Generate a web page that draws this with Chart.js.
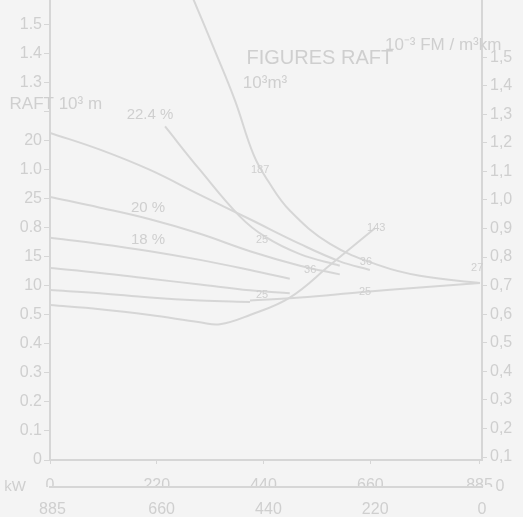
<!DOCTYPE html>
<html>
<head>
<meta charset="utf-8">
<script src="https://cdn.jsdelivr.net/npm/chart.js@4.4.0/dist/chart.umd.min.js"></script>
<style>
  html, body { margin: 0; padding: 0; background: #f4f4f4; }
  #wrap { width: 523px; height: 517px; }
</style>
</head>
<body>
<div id="wrap"><canvas id="raftChart"></canvas></div>
<script>
// power axis (kW), upper row and reversed lower row
const powerTicks = [0, 220, 440, 660, 885];

// left axis ticks and what is printed beside them
const leftTicks = [0, 0.1, 0.2, 0.3, 0.4, 0.5, 0.6, 0.7, 0.8, 0.9, 1.0, 1.1, 1.2, 1.3, 1.4, 1.5];
const leftTickLabels = ['0', '0.1', '0.2', '0.3', '0.4', '0.5', '10', '15', '0.8', '25', '1.0', '20', '', '1.3', '1.4', '1.5'];

// right axis (10^-3 FM / m3km)
const rightTicks = [0.1, 0.2, 0.3, 0.4, 0.5, 0.6, 0.7, 0.8, 0.9, 1.0, 1.1, 1.2, 1.3, 1.4, 1.5];
const rightTickLabels = ['0,1', '0,2', '0,3', '0,4', '0,5', '0,6', '0,7', '0,8', '0,9', '1,0', '1,1', '1,2', '1,3', '1,4', '1,5'];

// curves, [kW, value]
const curveSteep = [[295, 1.59], [340, 1.41], [381, 1.24], [420, 1.05], [450, 0.96], [494, 0.86], [577, 0.745], [680, 0.67], [762, 0.635], [886, 0.61]];
const curve224 = [[237, 1.15], [309, 1.0], [391, 0.84], [443, 0.77], [515, 0.71], [597, 0.67]];
const curveA = [[0, 1.128], [103, 1.07], [206, 1.0], [309, 0.914], [412, 0.83], [515, 0.745], [597, 0.685], [659, 0.655]];
const curveB = [[0, 0.907], [103, 0.87], [206, 0.83], [309, 0.78], [412, 0.72], [515, 0.67], [597, 0.64]];
const curveC = [[0, 0.766], [103, 0.745], [206, 0.72], [309, 0.69], [412, 0.655], [494, 0.625]];
const curveD = [[0, 0.662], [103, 0.645], [206, 0.625], [309, 0.605], [412, 0.585], [494, 0.575]];
const curveE = [[0, 0.586], [103, 0.575], [206, 0.56], [309, 0.55], [412, 0.545]];
const curveF = [[0, 0.534], [103, 0.52], [206, 0.50], [309, 0.475], [350, 0.468], [412, 0.50], [494, 0.56], [577, 0.672], [670, 0.80]];
const curveFlat = [[412, 0.55], [515, 0.56], [639, 0.578], [762, 0.595], [886, 0.61]];

// text written on the sheet, anchored in kW / left-axis units
const chartNotes = [
  ['10\u207B\u00B3 FM / m\u00B3km', 810, 1.43, 17],
  ['FIGURES RAFT', 556, 1.385, 20],
  ['10\u00B3m\u00B3', 443, 1.30, 17],
  ['RAFT 10\u00B3 m', 12, 1.225, 17],
  ['22.4 %', 206, 1.19, 15],
  ['20 %', 202, 0.87, 15],
  ['18 %', 202, 0.76, 15],
  ['187', 433, 1.0, 11],
  ['143', 672, 0.80, 11],
  ['36', 651, 0.683, 11],
  ['25', 437, 0.76, 11],
  ['36', 536, 0.655, 11],
  ['25', 649, 0.579, 11],
  ['25', 437, 0.569, 11],
  ['27', 880, 0.662, 11],
  ['kW', -72, -0.093, 15],
  ['0', 927, -0.093, 16]
];

const lineColor = '#d6d6d6';
const textColor = '#cfcfcf';
const fontFamily = '"Liberation Sans", Arial, sans-serif';

function toPoints(list) {
  return list.map(p => ({x: p[0], y: p[1]}));
}

function makeSet(list) {
  return {
    data: toPoints(list),
    borderColor: lineColor,
    borderWidth: 2,
    pointRadius: 0,
    tension: 0.4,
    fill: false,
    yAxisID: 'y'
  };
}

const notesPlugin = {
  id: 'notes',
  afterDatasetsDraw(chart) {
    const ctx = chart.ctx;
    const xs = chart.scales.x;
    const ys = chart.scales.y;
    ctx.save();
    ctx.fillStyle = textColor;
    ctx.textAlign = 'center';
    ctx.textBaseline = 'middle';
    chartNotes.forEach(n => {
      ctx.font = n[3] + 'px ' + fontFamily;
      ctx.fillText(n[0], xs.getPixelForValue(n[1]), ys.getPixelForValue(n[2]));
    });
    ctx.restore();
  }
};

function fixSize(prop, size) {
  return function(scale) {
    scale[prop] = size;
    scale.paddingTop = 0;
    scale.paddingBottom = 0;
    scale.paddingLeft = 0;
    scale.paddingRight = 0;
  };
}

const ctx = document.getElementById('raftChart').getContext('2d');
const raftChart = new Chart(ctx, {
  type: 'line',
  data: {
    datasets: [curveSteep, curve224, curveA, curveB, curveC, curveD, curveE, curveF, curveFlat].map(makeSet)
  },
  options: {
    responsive: true,
    maintainAspectRatio: false,
    animation: false,
    layout: { padding: 0 },
    plugins: {
      legend: { display: false },
      tooltip: { enabled: false }
    },
    scales: {
      x: {
        type: 'linear',
        position: 'bottom',
        min: 0,
        max: 890,
        afterBuildTicks: s => { s.ticks = powerTicks.map(v => ({value: v})); },
        afterFit: fixSize('height', 27),
        border: { color: lineColor, width: 2 },
        grid: { drawOnChartArea: false, color: lineColor, tickLength: 4 },
        ticks: { color: textColor, padding: 12, maxRotation: 0, font: { family: fontFamily, size: 16 } }
      },
      x2: {
        type: 'linear',
        position: 'bottom',
        reverse: true,
        min: 0,
        max: 890,
        afterBuildTicks: s => { s.ticks = powerTicks.map(v => ({value: v})); },
        afterFit: fixSize('height', 30),
        border: { color: lineColor, width: 2 },
        grid: { display: false },
        ticks: { color: textColor, padding: 5, maxRotation: 0, font: { family: fontFamily, size: 16 } }
      },
      y: {
        type: 'linear',
        position: 'left',
        min: 0,
        max: 1.586,
        afterBuildTicks: s => { s.ticks = leftTicks.map(v => ({value: v})); },
        afterFit: fixSize('width', 50),
        border: { color: lineColor, width: 2 },
        grid: { drawOnChartArea: false, color: lineColor, tickLength: 6 },
        ticks: {
          color: textColor,
          padding: 2,
          font: { family: fontFamily, size: 16 },
          callback: (v, i) => leftTickLabels[i]
        }
      },
      y2: {
        type: 'linear',
        position: 'right',
        min: 0.0895,
        max: 1.70,
        afterBuildTicks: s => { s.ticks = rightTicks.map(v => ({value: v})); },
        afterFit: fixSize('width', 41),
        border: { color: lineColor, width: 2 },
        grid: { drawOnChartArea: false, color: lineColor, tickLength: 5 },
        ticks: {
          color: textColor,
          padding: 3,
          font: { family: fontFamily, size: 16 },
          callback: (v, i) => rightTickLabels[i]
        }
      }
    }
  },
  plugins: [notesPlugin]
});
</script>
</body>
</html>
